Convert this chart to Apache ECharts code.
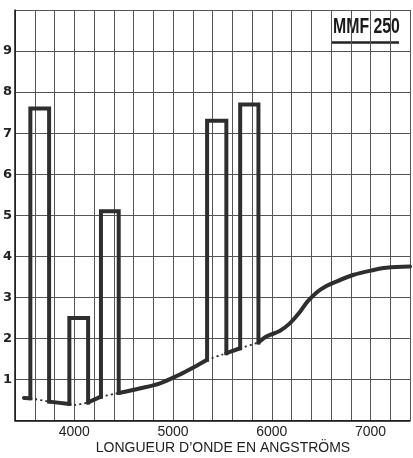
<!DOCTYPE html>
<html>
<head>
<meta charset="utf-8">
<script src="https://cdn.jsdelivr.net/npm/echarts@6/dist/echarts.min.js"></script>
<style>
  html, body { margin: 0; padding: 0; background: #fff; }
  #main { width: 413px; height: 458px; }
</style>
</head>
<body>
<div id="main"></div>
<script>
// continu du spectre (longueur d'onde en A, energie relative)
var contWl  = [3490, 3555, 3745, 3950, 4000, 4140, 4270, 4450, 4660, 4860, 5060, 5220, 5345, 5540, 5680, 5865, 5950, 6080, 6180, 6270, 6370, 6500, 6660, 6830, 7000, 7160, 7400];
var contVal = [0.55, 0.54, 0.46, 0.40, 0.38, 0.44, 0.58, 0.67, 0.78, 0.90, 1.11, 1.31, 1.48, 1.64, 1.76, 1.90, 2.05, 2.18, 2.36, 2.60, 2.92, 3.20, 3.39, 3.55, 3.65, 3.72, 3.75];

// raies du mercure, dessinees en bandes de 200 A
var barStart = [3555, 3950, 4270, 5345, 5680];
var barEnd   = [3745, 4140, 4450, 5540, 5865];
var barTop   = [7.6, 2.5, 5.1, 7.3, 7.7];

var xTickLabels = [4000, 5000, 6000, 7000];
var yTickLabels = [1, 2, 3, 4, 5, 6, 7, 8, 9];

var ink = '#2e2e2e';

function contAt(wl) {
    return contVal[contWl.indexOf(wl)];
}
function contBetween(a, b) {
    var pts = [];
    contWl.forEach(function (w, i) {
        if (w >= a && w <= b) pts.push([w, contVal[i]]);
    });
    return pts;
}

var series = [];
// morceaux visibles du continu (trait plein)
var edges = [contWl[0]];
barStart.forEach(function (s, i) { edges.push(s, barEnd[i]); });
edges.push(contWl[contWl.length - 1]);
for (var k = 0; k < edges.length; k += 2) {
    series.push({
        type: 'line', data: contBetween(edges[k], edges[k + 1]),
        smooth: 0.35, showSymbol: false, silent: true,
        lineStyle: { color: ink, width: 4, cap: 'round' }
    });
}
// continu sous les raies (pointille)
barStart.forEach(function (s, i) {
    series.push({
        type: 'line', data: contBetween(s, barEnd[i]),
        smooth: 0.3, showSymbol: false, silent: true,
        lineStyle: { color: ink, width: 1.8, type: [2, 3] }
    });
    // la bande elle-meme
    series.push({
        type: 'line',
        data: [[s, contAt(s)], [s, barTop[i]], [barEnd[i], barTop[i]], [barEnd[i], contAt(barEnd[i])]],
        showSymbol: false, silent: true,
        lineStyle: { color: ink, width: 4, join: 'miter', cap: 'square' }
    });
});

var myChart = echarts.init(document.getElementById('main'));
var option = {
    animation: false,
    backgroundColor: '#fff',
    grid: { left: 12, right: -5, top: 10, bottom: 37.5 },
    xAxis: {
        type: 'value', min: 3400, max: 7400, interval: 200,
        axisLine: { show: true, lineStyle: { color: '#111', width: 1.5 } },
        axisTick: { show: false },
        axisLabel: {
            color: '#222', fontSize: 14, fontFamily: 'Liberation Sans', margin: 5,
            formatter: function (v) { return xTickLabels.indexOf(v) >= 0 ? String(v) : ''; }
        },
        splitLine: { show: true, lineStyle: { color: '#555', width: 1 } }
    },
    yAxis: {
        type: 'value', min: 0, max: 10, interval: 1,
        axisLine: { show: true, lineStyle: { color: '#111', width: 1.5 } },
        axisTick: { show: false },
        axisLabel: {
            color: '#222', fontSize: 13, fontWeight: 'bold', fontFamily: 'DejaVu Sans', margin: 3,
            formatter: function (v) { return yTickLabels.indexOf(v) >= 0 ? String(v) : ''; }
        },
        splitLine: { show: true, lineStyle: { color: '#555', width: 1 } }
    },
    graphic: [
        {
            type: 'text', x: 333, y: 16, scaleX: 0.72,
            style: { text: 'MMF 250', fontSize: 22, fontWeight: 'bold', fontFamily: 'Liberation Sans', fill: '#1a1a1a' }
        },
        {
            type: 'line', shape: { x1: 332, y1: 42.5, x2: 399, y2: 42.5 },
            style: { stroke: '#222', lineWidth: 2.5 }
        },
        {
            type: 'text', x: 223, y: 448,
            style: { text: 'LONGUEUR D\u2019ONDE EN ANGSTR\u00d6MS', fontSize: 14, fontFamily: 'Liberation Sans', fill: '#222', align: 'center', verticalAlign: 'middle' }
        }
    ],
    series: series
};
myChart.setOption(option);
</script>
</body>
</html>
